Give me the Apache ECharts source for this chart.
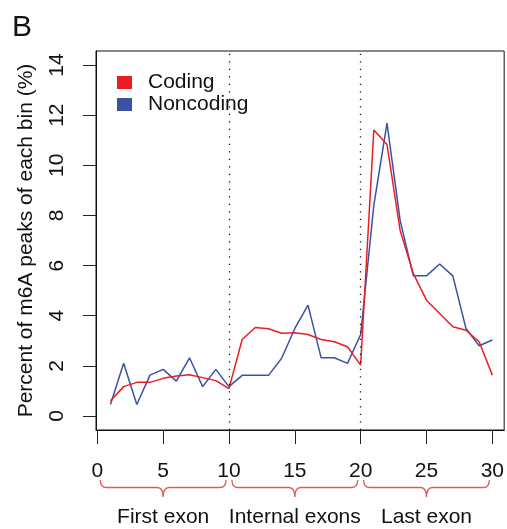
<!DOCTYPE html>
<html>
<head>
<meta charset="utf-8">
<script src="https://cdn.jsdelivr.net/npm/echarts@6/dist/echarts.min.js"></script>
<style>
html,body{margin:0;padding:0;background:#fff;}
#chart{width:507px;height:529px;}
</style>
</head>
<body>
<div id="chart"></div>
<script>
// ---- data ----
const bins = [1,2,3,4,5,6,7,8,9,10,11,12,13,14,15,16,17,18,19,20,21,22,23,24,25,26,27,28,29,30];
const coding = [0.61,1.17,1.34,1.34,1.50,1.59,1.64,1.53,1.41,1.09,
                3.05,3.53,3.48,3.30,3.32,3.25,3.05,2.96,2.76,2.03,
                11.41,10.83,7.40,5.68,4.62,4.09,3.56,3.42,2.96,1.63];
const noncoding = [0.46,2.10,0.46,1.63,1.86,1.39,2.32,1.17,1.86,1.17,
                   1.62,1.62,1.62,2.30,3.49,4.42,2.32,2.32,2.10,3.25,
                   8.40,11.68,7.80,5.59,5.59,6.06,5.59,3.49,2.80,3.03];
const xTicks = [0,5,10,15,20,25,30];
const yTicks = [0,2,4,6,8,10,12,14];
const boundaries = [10,20];
const regionNames = ['First exon','Internal exons','Last exon'];
const regionStart = [0,10,20];
const regionEnd = [10,20,30];

const FONT = '"Liberation Sans", Arial, Helvetica, sans-serif';
const RED = '#ED1C24', BLUE = '#3953A4', BRACE = '#DE5B56';

const chart = echarts.init(document.getElementById('chart'), null, {renderer:'canvas'});
const option = {
  animation: false,
  backgroundColor: '#fff',
  textStyle: {fontFamily: FONT},
  title: {
    text: 'B', left: 7, top: 8,
    textStyle: {fontSize: 30, fontWeight: 'normal', color: '#111', fontFamily: FONT}
  },
  legend: {
    data: ['Coding','Noncoding'],
    orient: 'vertical', left: 112, top: 67,
    icon: 'rect', itemWidth: 15, itemHeight: 13, itemGap: 1,
    textStyle: {fontSize: 21, color: '#111', fontFamily: FONT, padding: [0,0,0,11], lineHeight: 21}
  },
  grid: {
    left: 96, right: 2, top: 51, bottom: 99,
    show: true, borderColor: '#111', borderWidth: 1, containLabel: false
  },
  xAxis: {
    type: 'value', min: -0.1, max: 30.9,
    axisLine: {show: true, onZero: false, lineStyle: {color: '#111', width: 1}},
    axisTick: {show: true, length: 14, customValues: xTicks, lineStyle: {color: '#222', width: 1}},
    axisLabel: {show: true, customValues: xTicks, margin: 31, fontSize: 21, color: '#111', fontFamily: FONT},
    splitLine: {show: false}
  },
  yAxis: {
    type: 'value', min: -0.56, max: 14.56,
    name: 'Percent of m6A peaks of each bin (%)',
    nameLocation: 'middle', nameGap: 59, nameRotate: 90,
    nameTextStyle: {fontSize: 21, color: '#111', fontFamily: FONT},
    axisLine: {show: true, onZero: false, lineStyle: {color: '#111', width: 1}},
    axisTick: {show: true, length: 13, customValues: yTicks, lineStyle: {color: '#222', width: 1}},
    axisLabel: {show: true, customValues: yTicks, rotate: 90, margin: 28, fontSize: 21, color: '#111', fontFamily: FONT},
    splitLine: {show: false}
  },
  series: [
    {
      name: 'Coding', type: 'line',
      data: bins.map((b,i) => [b, coding[i]]),
      showSymbol: false, symbol: 'none',
      lineStyle: {color: RED, width: 1.5}, itemStyle: {color: RED},
      z: 3,
      markLine: {
        silent: true, symbol: 'none', label: {show: false},
        lineStyle: {color: '#111', type: [1.3, 6.2], width: 1.3},
        data: boundaries.map(v => ({xAxis: v}))
      }
    },
    {
      name: 'Noncoding', type: 'line',
      data: bins.map((b,i) => [b, noncoding[i]]),
      showSymbol: false, symbol: 'none',
      lineStyle: {color: BLUE, width: 1.5}, itemStyle: {color: BLUE},
      z: 2
    },
    {
      name: 'regions', type: 'custom', clip: false, silent: true,
      data: regionNames.map((n,i) => [regionStart[i], regionEnd[i], n]),
      renderItem: function(params, api) {
        const s = api.value(0), e = api.value(1);
        const name = regionNames[params.dataIndex];
        const bottom = params.coordSys.y + params.coordSys.height;
        const x1 = api.coord([s, 0])[0] + 3;
        const x2 = api.coord([e, 0])[0] - 3;
        const xm = api.coord([(s + e) / 2, 0])[0];
        const top = bottom + 50, mid = bottom + 57.5, tip = bottom + 67;
        const r = 6;
        const d = 'M' + x1 + ',' + top +
          ' Q' + x1 + ',' + mid + ' ' + (x1 + r) + ',' + mid +
          ' L' + (xm - r) + ',' + mid +
          ' Q' + xm + ',' + mid + ' ' + xm + ',' + tip +
          ' Q' + xm + ',' + mid + ' ' + (xm + r) + ',' + mid +
          ' L' + (x2 - r) + ',' + mid +
          ' Q' + x2 + ',' + mid + ' ' + x2 + ',' + top;
        return {
          type: 'group',
          children: [
            {type: 'path', shape: {pathData: d}, style: {fill: null, stroke: BRACE, lineWidth: 1.3}},
            {type: 'text', style: {text: name, x: xm, y: bottom + 87, align: 'center', verticalAlign: 'middle',
              font: '21px ' + FONT, fill: '#111'}}
          ]
        };
      }
    }
  ]
};
chart.setOption(option);
</script>
</body>
</html>
